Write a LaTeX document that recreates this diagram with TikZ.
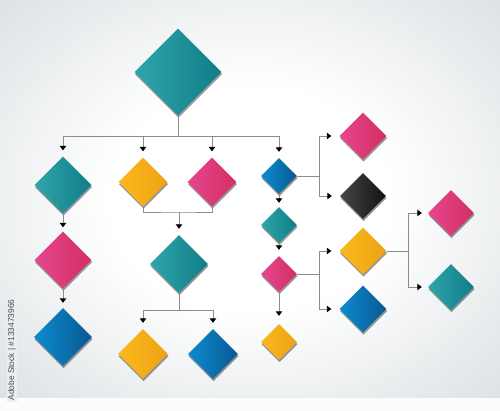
\documentclass[tikz,border=0pt]{standalone}
\usepackage{fontspec}
\setmainfont{Liberation Sans}
\usetikzlibrary{shapes.geometric,shadows,arrows.meta}
\definecolor{bggray}{HTML}{D3D9DC}
\definecolor{tealL}{HTML}{30A5AB}
\definecolor{tealR}{HTML}{0F7D88}
\definecolor{yelL}{HTML}{FBB91D}
\definecolor{yelR}{HTML}{EDA214}
\definecolor{magL}{HTML}{E6468F}
\definecolor{magR}{HTML}{D22F62}
\definecolor{bluL}{HTML}{0B8CCF}
\definecolor{bluR}{HTML}{0A5891}
\definecolor{blkL}{HTML}{474747}
\definecolor{blkR}{HTML}{111111}
\definecolor{lngray}{HTML}{8C8C8C}
\pgfdeclareradialshading{bgshade}{\pgfpoint{0bp}{0bp}}{color(0bp)=(white); color(14bp)=(white); color(42bp)=(bggray); color(60bp)=(bggray)}
\tikzset{
  dia/.style={diamond, aspect=1, inner sep=0pt, minimum size=#1,
    drop shadow={shadow xshift=0.6pt, shadow yshift=-2.2pt, opacity=0.4, fill=black}},
  teal/.style={left color=tealL, right color=tealR},
  yel/.style={left color=yelL, right color=yelR},
  mag/.style={left color=magL, right color=magR},
  blu/.style={left color=bluL, right color=bluR},
  blk/.style={left color=blkL, right color=blkR},
  ln/.style={draw=lngray, line width=0.9pt},
  arr/.style={ln, -{Triangle[width=6.5pt,length=4.5pt,color=black]}, shorten >=#1},
  arr/.default=6pt
}
\begin{document}
\begin{tikzpicture}[x=1pt,y=-1pt]
\useasboundingbox (0,0) rectangle (500,411);
\shade[shading=bgshade] (0,0) rectangle (500,398);
\fill[white!92!bggray] (0,398) rectangle (500,411);
\node[fill=white!55!bggray, inner sep=1.5pt, text=black!70, rotate=90,
  font=\fontsize{8.4}{9}\selectfont] (wm) at (12,350) {Adobe Stock | \#133473966};

% nodes
\node[dia=87, teal] (top) at (178,72) {};
\node[dia=57, teal] (a1) at (63,185) {};
\node[dia=49, yel]  (a2) at (143,182) {};
\node[dia=49, mag]  (a3) at (212,182) {};
\node[dia=36, blu]  (a4) at (279,176) {};
\node[dia=57, mag]  (b1) at (63,260) {};
\node[dia=58, blu]  (c1) at (63,337) {};
\node[dia=58, teal] (b2) at (179,264) {};
\node[dia=50, yel]  (c2) at (143,354) {};
\node[dia=50, blu]  (c3) at (213,354) {};
\node[dia=36, teal] (b4) at (279,225) {};
\node[dia=36, mag]  (d4) at (279,274) {};
\node[dia=36, yel]  (e4) at (279,342) {};
\node[dia=47, mag]  (r1) at (363,136) {};
\node[dia=46, blk]  (r2) at (363,196) {};
\node[dia=47, yel]  (r3) at (363,251) {};
\node[dia=47, blu]  (r4) at (363,309) {};
\node[dia=46, mag]  (s1) at (451,213) {};
\node[dia=46, teal] (s2) at (451,287) {};

% coordinates
\coordinate (bus) at (178,136);
\coordinate (j1) at (179,212);
\coordinate (j2) at (179,310);
\coordinate (k1) at (319,176);
\coordinate (k2) at (319,274);
\coordinate (k3) at (408,251);

% connectors
\draw[ln] (top.south) -- (bus);
\foreach \n in {a1,a2,a3,a4} \draw[arr] (bus) -| (\n.north);
\draw[arr=4pt] (a1.south) -- (b1.north);
\draw[arr=5pt] (b1.south) -- (c1.north);
\draw[ln] (a2.south) |- (j1) -| (a3.south);
\draw[arr] (j1) -- (b2.north);
\draw[ln] (b2.south) -- (j2);
\draw[arr] (j2) -| (c2.north);
\draw[arr] (j2) -| (c3.north);
\draw[arr=4pt] (a4.south) -- (b4.north);
\draw[arr=6pt] (b4.south) -- (d4.north);
\draw[arr=8pt] (d4.south) -- (e4.north);
\draw[ln] (a4.east) -- (k1);
\draw[arr=8pt] (k1) |- (r1.west);
\draw[arr=8pt] (k1) |- (r2.west);
\draw[ln] (d4.east) -- (k2);
\draw[arr=8pt] (k2) |- (r3.west);
\draw[arr=8pt] (k2) |- (r4.west);
\draw[ln] (r3.east) -- (k3);
\draw[arr=6pt] (k3) |- (s1.west);
\draw[arr=6pt] (k3) |- (s2.west);
\end{tikzpicture}
\end{document}
